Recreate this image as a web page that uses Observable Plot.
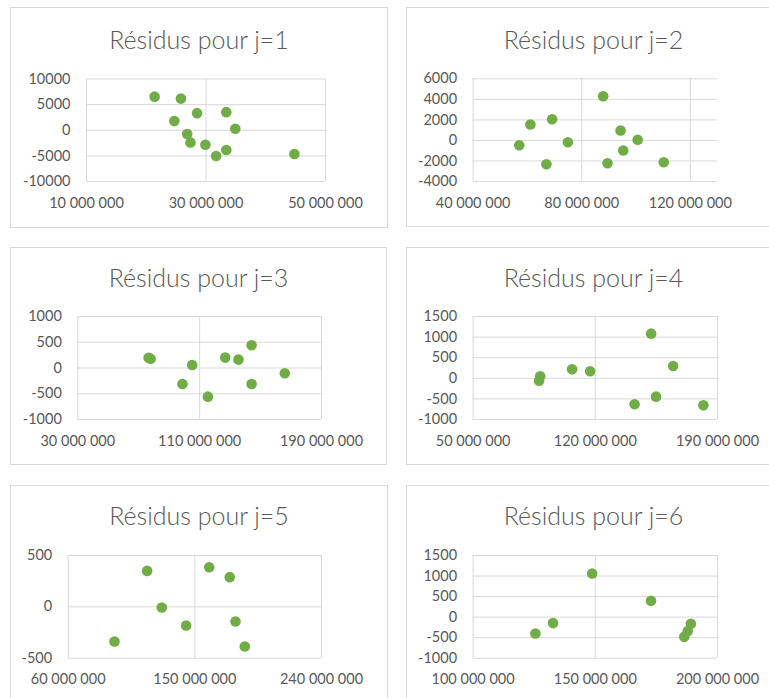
<!DOCTYPE html>
<html><head><meta charset="utf-8">
<script src="https://cdn.jsdelivr.net/npm/d3@7"></script>
<script src="https://cdn.jsdelivr.net/npm/@observablehq/plot@0.6"></script>
<style>
html,body{margin:0;padding:0;background:#fff;}
#root{position:relative;width:769px;height:698px;overflow:hidden;background:#fff;font-family:Lato,'Open Sans',sans-serif;}
.frame{position:absolute;border:1px solid #d9d9d9;box-sizing:border-box;}
.chart{position:absolute;}
</style></head><body><div id="root"></div>
<script>
// ---- data ----
const titles = ["Résidus pour j=1","Résidus pour j=2","Résidus pour j=3","Résidus pour j=4","Résidus pour j=5","Résidus pour j=6"];

const j1X = [21400000, 25800000, 24700000, 28500000, 33400000, 34900000, 26850000, 27400000, 29900000, 31700000, 33400000, 44800000];
const j1Y = [6560, 6180, 1790, 3340, 3530, 290, -740, -2370, -2820, -5010, -3850, -4620];

const j2X = [87900000, 61100000, 69100000, 57000000, 74900000, 67000000, 94300000, 100600000, 95300000, 89500000, 110200000];
const j2Y = [4306, 1550, 2066, -465, -173, -2315, 966, 60, -981, -2218, -2120];

const j3X = [76500000, 77800000, 98700000, 105100000, 115400000, 126800000, 135500000, 144100000, 144100000, 165900000];
const j3Y = [200, 180, -311, 58, -556, 202, 163, 441, -311, -103];

const j4X = [88400000, 87800000, 106700000, 117000000, 152000000, 164600000, 142500000, 154800000, 181900000];
const j4Y = [49, -57, 218, 170, 1084, 299, -631, -445, -655];

const j5X = [116100000, 126500000, 92900000, 143800000, 160200000, 174800000, 178900000, 185500000];
const j5Y = [350, -7, -338, -182, 386, 289, -143, -386];

const j6X = [148700000, 172800000, 132700000, 125500000, 189100000, 187800000, 186400000];
const j6Y = [1063, 397, -146, -397, -163, -341, -480];

const xDomains = [[10e6,50e6],[40e6,130e6],[30e6,190e6],[50e6,190e6],[60e6,240e6],[100e6,200e6]];
const xTickVals = [[10e6,30e6,50e6],[40e6,80e6,120e6],[30e6,110e6,190e6],[50e6,120e6,190e6],[60e6,150e6,240e6],[100e6,150e6,200e6]];
const yDomains = [[-10000,10000],[-4000,6000],[-1000,1000],[-1000,1500],[-500,500],[-1000,1500]];
const yTickVals = [
  [-10000,-5000,0,5000,10000],
  [-4000,-2000,0,2000,4000,6000],
  [-1000,-500,0,500,1000],
  [-1000,-500,0,500,1000,1500],
  [-500,0,500],
  [-1000,-500,0,500,1000,1500]
];

// ---- layout (page px) ----
const boxes = [
  {x:10,    y:7,   w:377, h:220, l:86,    r:325,   t:78.5, b:181,   tb:48.3},
  {x:405.7, y:7,   w:374, h:219, l:472.3, r:716.7, t:78.3, b:181,   tb:48.3},
  {x:10,    y:247, w:376, h:217, l:77.3,  r:321,   t:316,  b:419,   tb:286},
  {x:405.7, y:247, w:374, h:217, l:472.3, r:716.7, t:316,  b:419,   tb:286},
  {x:10,    y:485, w:377, h:220, l:67.7,  r:321,   t:555,  b:657.7, tb:524.3},
  {x:405.7, y:485, w:374, h:220, l:472.3, r:716.7, t:555,  b:657.7, tb:524.3}
];

const seriesX = [j1X, j2X, j3X, j4X, j5X, j6X];
const seriesY = [j1Y, j2Y, j3Y, j4Y, j5Y, j6Y];

const loc = d3.formatLocale({decimal: ",", thousands: " ", grouping: [3], currency: ["", ""]});
const fmtX = loc.format(",");
const fmtY = d => String(d);

const GRID = "#d9d9d9", TEXT = "#595959", GREEN = "#70ad47";
const root = document.getElementById("root");

boxes.forEach((bx, i) => {
  const fr = document.createElement("div");
  fr.className = "frame";
  fr.style.left = bx.x + "px"; fr.style.top = bx.y + "px";
  fr.style.width = (bx.w + 1) + "px"; fr.style.height = (bx.h + 1) + "px";
  root.appendChild(fr);

  const data = seriesX[i].map((v, k) => ({x: v, y: seriesY[i][k]}));
  const chart = Plot.plot({
    width: bx.w,
    height: bx.h,
    marginLeft: bx.l - bx.x,
    marginRight: (bx.x + bx.w) - bx.r,
    marginTop: bx.t - bx.y,
    marginBottom: (bx.y + bx.h) - bx.b,
    style: {fontFamily: "Lato, 'Open Sans', sans-serif", fontSize: "14.5px", color: TEXT, background: "transparent", overflow: "visible"},
    x: {domain: xDomains[i], ticks: xTickVals[i], tickFormat: fmtX, tickSize: 0, tickPadding: 16, label: null},
    y: {domain: yDomains[i], ticks: yTickVals[i], tickFormat: fmtY, tickSize: 0, tickPadding: 16, label: null},
    marks: [
      Plot.ruleY(yTickVals[i], {stroke: GRID, strokeWidth: 1}),
      Plot.ruleX(xTickVals[i], {stroke: GRID, strokeWidth: 1}),
      Plot.dot(data, {x: "x", y: "y", r: 5.3, fill: GREEN}),
      Plot.text([titles[i]], {text: d => d, frameAnchor: "top", lineAnchor: "bottom",
        dx: (bx.x + bx.w / 2) - (bx.l + bx.r) / 2, dy: bx.tb - bx.t,
        fontSize: 25, fontWeight: 300, fill: TEXT})
    ]
  });
  chart.classList.add("chart");
  chart.style.left = bx.x + "px";
  chart.style.top = bx.y + "px";
  root.appendChild(chart);
});
</script>
</body></html>
